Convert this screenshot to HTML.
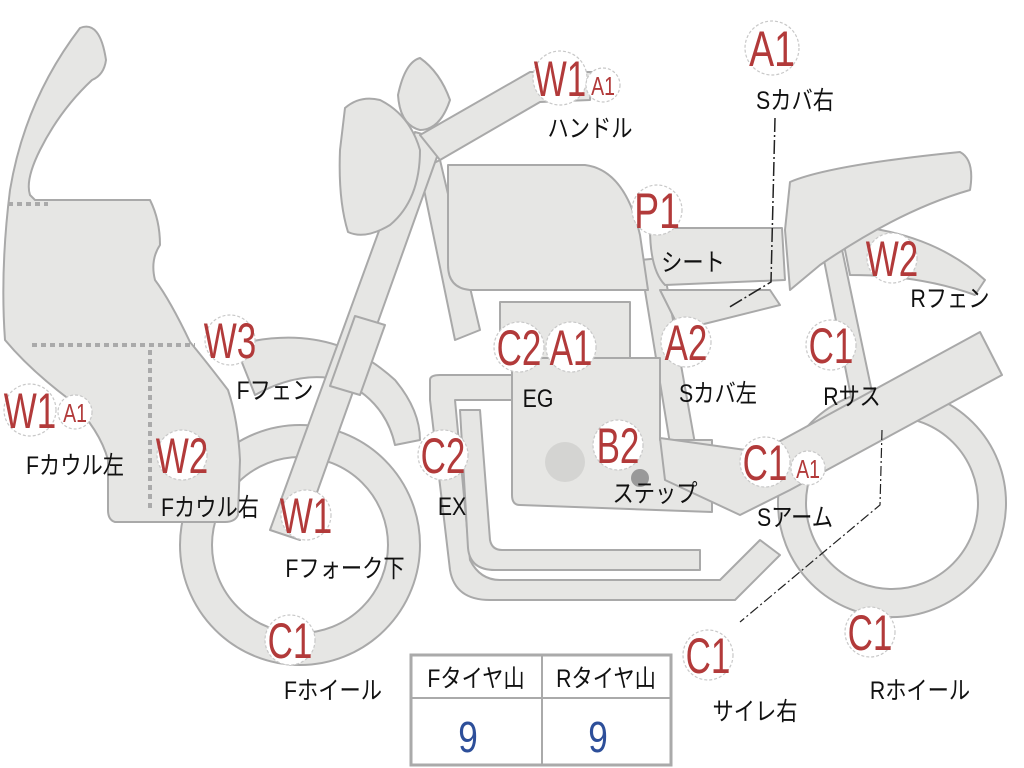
<!DOCTYPE html>
<html><head><meta charset="utf-8"><style>
html,body{margin:0;padding:0;background:#fff;width:1024px;height:768px;overflow:hidden}
svg{display:block}
.s{fill:#e6e6e4;stroke:#a9a9a9;stroke-width:2;stroke-linejoin:round}
.bd{fill:#fff;stroke:#c8c8c8;stroke-width:1.2;stroke-dasharray:3 2}
.r{fill:#b23a3a;font-family:"Liberation Sans",sans-serif;text-anchor:middle}
.k{fill:#111;font-family:"Liberation Sans","Noto Sans CJK JP",sans-serif;font-size:25px;text-anchor:middle}
</style></head><body>
<svg width="1024" height="768" viewBox="0 0 1024 768">
<path class="s" fill-rule="evenodd" d="M180,545a120,120 0 1,0 240,0a120,120 0 1,0 -240,0Z M212,545a88,88 0 1,0 176,0a88,88 0 1,0 -176,0Z"/>
<path class="s" fill-rule="evenodd" d="M778,503a114,114 0 1,0 228,0a114,114 0 1,0 -228,0Z M806,503a86,86 0 1,0 172,0a86,86 0 1,0 -172,0Z"/>
<path class="s" d="M235,345 Q330,320 395,380 Q420,410 420,440 L395,445 Q385,400 340,380 Q300,370 255,395 Z"/>
<path class="s" d="M840,225 Q930,230 985,280 L975,295 Q920,275 850,275 Z"/>
<path class="s" d="M420,170 L440,160 L480,330 L455,340 Z"/>
<path class="s" d="M640,260 L662,258 L705,500 L680,505 Z"/>
<path class="s" d="M430,380 Q430,375 440,375 L520,375 L520,400 L455,400 L470,560 Q480,580 500,580 L720,580 L760,540 L780,555 L735,600 L490,600 Q455,600 450,570 L430,400 Z"/>
<path class="s" d="M460,410 L480,410 L490,540 Q492,550 502,550 L700,550 L700,570 L495,570 Q470,570 468,548 Z"/>
<path class="s" d="M660,290 L770,290 L780,305 L680,330 Z"/>
<path class="s" d="M820,240 L840,240 L880,430 L858,432 Z"/>
<path class="s" d="M500,302 L630,302 L630,358 L500,358 Z"/>
<path class="s" d="M512,358 L660,358 L660,440 L712,440 L712,512 L520,505 Q512,505 512,495 Z"/>
<circle cx="565" cy="462" r="20" fill="#d4d4d2"/>
<circle cx="640" cy="478" r="9" fill="#999"/>
<circle cx="690" cy="475" r="9" fill="#999"/>
<path class="s" d="M660,438 L760,452 L980,332 L1002,375 L790,490 L740,515 L665,480 Z"/>
<path class="s" d="M448,165 L585,165 Q625,170 640,235 L648,290 L470,290 Q448,288 448,265 Z"/>
<path class="s" d="M650,228 L782,228 L785,280 L665,285 Q650,270 650,228 Z"/>
<path class="s" d="M790,182 Q830,165 960,152 Q975,160 970,190 Q900,210 820,265 L790,290 L785,230 Z"/>
<path class="s" d="M415,132 L443,140 L300,540 L270,530 Z"/>
<path class="s" d="M355,316 L385,325 L360,395 L330,386 Z"/>
<path class="s" d="M420,135 L530,72 L592,72 L590,100 L540,102 L440,160 Z"/>
<path class="s" d="M345,108 Q360,95 380,100 Q410,115 420,150 Q420,200 390,225 Q365,240 348,232 Q338,200 340,150 Z"/>
<path class="s" d="M398,95 Q405,62 420,58 Q440,72 450,100 Q440,130 420,130 Q400,125 398,95 Z"/>
<path class="s" d="M10,190 Q25,100 80,28 Q100,20 106,60 Q104,75 92,80 Q60,110 40,150 Q25,180 30,195 L35,200 L150,200 Q160,220 160,245 Q150,260 155,280 Q170,300 190,342 Q205,360 228,390 Q238,420 240,460 L238,515 Q235,522 225,522 L115,522 Q108,520 108,510 L108,460 Q100,430 70,400 Q30,370 5,340 Q0,270 10,190 Z"/>
<path d="M8,204 L48,204" stroke="#aaa" stroke-width="4" stroke-dasharray="5 4"/>
<path d="M32,345 L195,345 M150,350 L150,510" stroke="#aaa" stroke-width="4" stroke-dasharray="5 4"/>
<path d="M775,118 L771,282 L728,308" stroke="#222" stroke-width="1.5" fill="none" stroke-dasharray="14 3 2 3"/>
<path d="M882,430 L880,505 L740,622" stroke="#222" stroke-width="1.2" fill="none" stroke-dasharray="10 3 2 3"/>
<g>
<circle class="bd" cx="560" cy="78" r="27"/><text class="r" font-size="50" transform="translate(560,96) scale(0.7,1)">W1</text>
<circle class="bd" cx="603" cy="85" r="17"/><text class="r" font-size="26" transform="translate(603,95) scale(0.75,1)">A1</text>
<circle class="bd" cx="772" cy="48" r="27"/><text class="r" font-size="50" transform="translate(772,66) scale(0.75,1)">A1</text>
<circle class="bd" cx="657" cy="210" r="25"/><text class="r" font-size="50" transform="translate(657,228) scale(0.75,1)">P1</text>
<circle class="bd" cx="892" cy="258" r="25"/><text class="r" font-size="50" transform="translate(892,276) scale(0.7,1)">W2</text>
<circle class="bd" cx="519" cy="347" r="25"/><text class="r" font-size="50" transform="translate(519,365) scale(0.7,1)">C2</text>
<circle class="bd" cx="571" cy="347" r="25"/><text class="r" font-size="50" transform="translate(571,365) scale(0.7,1)">A1</text>
<circle class="bd" cx="686" cy="342" r="25"/><text class="r" font-size="50" transform="translate(686,360) scale(0.7,1)">A2</text>
<circle class="bd" cx="831" cy="345" r="25"/><text class="r" font-size="50" transform="translate(831,363) scale(0.7,1)">C1</text>
<circle class="bd" cx="230" cy="340" r="25"/><text class="r" font-size="50" transform="translate(230,358) scale(0.7,1)">W3</text>
<circle class="bd" cx="30" cy="410" r="26"/><text class="r" font-size="50" transform="translate(30,428) scale(0.7,1)">W1</text>
<circle class="bd" cx="75" cy="412" r="17"/><text class="r" font-size="26" transform="translate(75,422) scale(0.75,1)">A1</text>
<circle class="bd" cx="182" cy="455" r="25"/><text class="r" font-size="50" transform="translate(182,473) scale(0.7,1)">W2</text>
<circle class="bd" cx="443" cy="455" r="25"/><text class="r" font-size="50" transform="translate(443,473) scale(0.7,1)">C2</text>
<circle class="bd" cx="618" cy="445" r="25"/><text class="r" font-size="50" transform="translate(618,463) scale(0.7,1)">B2</text>
<circle class="bd" cx="765" cy="462" r="25"/><text class="r" font-size="50" transform="translate(765,480) scale(0.7,1)">C1</text>
<circle class="bd" cx="808" cy="468" r="17"/><text class="r" font-size="26" transform="translate(808,478) scale(0.75,1)">A1</text>
<circle class="bd" cx="306" cy="515" r="25"/><text class="r" font-size="50" transform="translate(306,533) scale(0.7,1)">W1</text>
<circle class="bd" cx="290" cy="640" r="25"/><text class="r" font-size="50" transform="translate(290,658) scale(0.7,1)">C1</text>
<circle class="bd" cx="708" cy="655" r="25"/><text class="r" font-size="50" transform="translate(708,673) scale(0.7,1)">C1</text>
<circle class="bd" cx="870" cy="632" r="25"/><text class="r" font-size="50" transform="translate(870,650) scale(0.7,1)">C1</text>
</g>
<g>
<text class="k" transform="translate(590,137) scale(0.85,1)">ハンドル</text>
<text class="k" transform="translate(795,109) scale(0.85,1)">Sカバ右</text>
<text class="k" transform="translate(693,271) scale(0.85,1)">シート</text>
<text class="k" transform="translate(950,307) scale(0.85,1)">Rフェン</text>
<text class="k" transform="translate(538,407) scale(0.85,1)">EG</text>
<text class="k" transform="translate(718,402) scale(0.85,1)">Sカバ左</text>
<text class="k" transform="translate(852,405) scale(0.85,1)">Rサス</text>
<text class="k" transform="translate(275,399) scale(0.85,1)">Fフェン</text>
<text class="k" transform="translate(75,474) scale(0.85,1)">Fカウル左</text>
<text class="k" transform="translate(210,516) scale(0.85,1)">Fカウル右</text>
<text class="k" transform="translate(452,515) scale(0.85,1)">EX</text>
<text class="k" transform="translate(655,502) scale(0.85,1)">ステップ</text>
<text class="k" transform="translate(795,526) scale(0.85,1)">Sアーム</text>
<text class="k" transform="translate(345,577) scale(0.85,1)">Fフォーク下</text>
<text class="k" transform="translate(333,699) scale(0.85,1)">Fホイール</text>
<text class="k" transform="translate(755,720) scale(0.85,1)">サイレ右</text>
<text class="k" transform="translate(920,699) scale(0.85,1)">Rホイール</text>
</g>
<rect x="411" y="655" width="260" height="110" fill="#fff" stroke="#aaa" stroke-width="3"/>
<line x1="411" y1="698" x2="671" y2="698" stroke="#aaa" stroke-width="2"/>
<line x1="542" y1="655" x2="542" y2="765" stroke="#aaa" stroke-width="2"/>
<text class="k" transform="translate(476,687) scale(0.85,1)">Fタイヤ山</text>
<text class="k" transform="translate(606,687) scale(0.85,1)">Rタイヤ山</text>
<text font-family="Liberation Sans,sans-serif" font-size="44" fill="#2d4f9a" text-anchor="middle" transform="translate(468,752) scale(0.8,1)">9</text>
<text font-family="Liberation Sans,sans-serif" font-size="44" fill="#2d4f9a" text-anchor="middle" transform="translate(598,752) scale(0.8,1)">9</text>
</svg>
</body></html>
